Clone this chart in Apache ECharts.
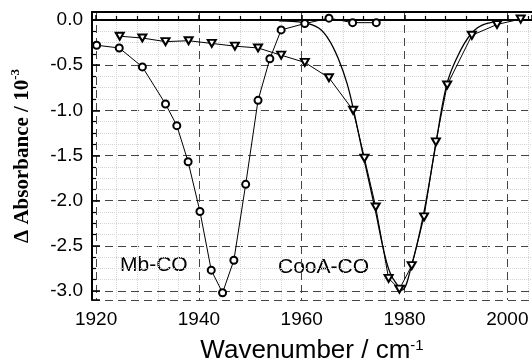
<!DOCTYPE html>
<html lang="en">
<head>
    <meta charset="UTF-8">
    <title></title>
    <script src="https://cdn.jsdelivr.net/npm/echarts@6/dist/echarts.min.js"></script>
    <style>
        html, body { margin: 0; padding: 0; background: #fff; }
    </style>
</head>
<body>
<div id="box1" style="width: 532px;height: 362px"></div>
<script>
    // Mb-CO difference spectrum (circles)
    var mbX = [1920.1, 1924.5, 1929.0, 1933.5, 1935.7, 1937.9, 1940.2, 1942.4, 1944.6, 1946.8,
        1949.1, 1951.5, 1953.8, 1956.0, 1960.6, 1965.3, 1969.9, 1974.5];
    var mbY = [-0.28, -0.31, -0.52, -0.93, -1.17, -1.57, -2.12, -2.77, -3.02, -2.66,
        -1.82, -0.89, -0.43, -0.11, -0.04, 0.02, -0.03, -0.03];

    // CooA-CO difference spectrum (triangles)
    var cooX = [1924.6, 1929.0, 1933.5, 1938.0, 1942.5, 1947.0, 1951.5, 1956.0, 1960.6, 1965.3,
        1970.0, 1972.2, 1974.4, 1976.9, 1979.0, 1981.4, 1983.8, 1986.1, 1988.3, 1993.1, 1998.0, 2002.6];
    var cooY = [-0.18, -0.20, -0.24, -0.23, -0.26, -0.29, -0.31, -0.39, -0.47, -0.64,
        -1.00, -1.53, -2.07, -2.86, -2.98, -2.72, -2.18, -1.35, -0.72, -0.17, -0.05, 0.01];

    // fitted band (solid smooth curve)
    var fitX = [1955.6, 1960.4, 1963.3, 1965.3, 1967.2, 1968.8, 1970.1, 1972.0, 1974.3, 1975.9,
        1977.2, 1978.8, 1979.5, 1981.4, 1983.6, 1985.9, 1988.1, 1990.1, 1993.0, 1995.9, 2002.6, 2004.8];
    var fitY = [-0.01, -0.03, -0.09, -0.22, -0.44, -0.70, -1.00, -1.51, -2.10, -2.54,
        -2.80, -2.95, -2.99, -2.71, -2.18, -1.44, -0.74, -0.43, -0.15, -0.04, 0.0, 0.0];

    var labels = ['Mb-CO', 'CooA-CO'];

    function pairs(xs, ys) {
        return xs.map(function (x, i) { return [x, ys[i]]; });
    }

    var sans = '"Liberation Sans", Arial, Helvetica, sans-serif';
    var serif = '"Liberation Serif", "Times New Roman", serif';
    var dash = [8, 5];

    var mychar = echarts.init(document.getElementById("box1"));
    var option = {
        backgroundColor: '#fff',
        animation: false,
        grid: {left: 92, right: 0, top: 12, bottom: 62, outerBoundsMode: 'none', containLabel: false},
        xAxis: [{
            type: 'value',
            min: 1919.2,
            max: 2004.8,
            splitNumber: 4,
            name: '{m|Wavenumber / cm}{s|-1}',
            nameLocation: 'middle',
            nameGap: 38,
            nameTextStyle: {
                rich: {
                    m: {fontSize: 26, fontFamily: sans, color: '#000', lineHeight: 26},
                    s: {fontSize: 15, fontFamily: sans, color: '#000', lineHeight: 12, verticalAlign: 'top'}
                }
            },
            axisLine: {lineStyle: {color: '#000', width: 2}},
            axisTick: {inside: true, length: 5, lineStyle: {color: '#000', width: 1.5}},
            minorTick: {show: true, splitNumber: 5, length: 4, lineStyle: {color: '#000', width: 1.2}},
            axisLabel: {
                color: '#000', fontSize: 19, fontFamily: sans, margin: 10,
                showMinLabel: false, showMaxLabel: false,
                formatter: function (v) { return String(v); }
            },
            splitLine: {lineStyle: {color: '#444', type: dash, width: 1}},
            minorSplitLine: {show: true, lineStyle: {color: '#d4d4d4', type: 'dotted', width: 1}}
        }, {
            type: 'value',
            position: 'top',
            min: 1919.2,
            max: 2004.8,
            axisLine: {show: true, lineStyle: {color: '#000', width: 2}},
            axisTick: {show: false},
            axisLabel: {show: false},
            splitLine: {show: false}
        }],
        yAxis: {
            type: 'value',
            min: -3.1,
            max: 0.088,
            splitNumber: 6,
            name: '{m|Δ Absorbance / 10}{s|-3}',
            nameLocation: 'middle',
            nameGap: 55,
            nameTextStyle: {
                rich: {
                    m: {fontSize: 21, fontFamily: serif, fontWeight: 'bold', color: '#000', lineHeight: 28},
                    s: {fontSize: 13, fontFamily: serif, fontWeight: 'bold', color: '#000', lineHeight: 13, verticalAlign: 'top'}
                }
            },
            axisLine: {show: true, lineStyle: {color: '#000', width: 2}},
            axisTick: {inside: true, length: 8, lineStyle: {color: '#000', width: 1.5}},
            minorTick: {show: true, splitNumber: 4, length: 4, lineStyle: {color: '#000', width: 1.2}},
            axisLabel: {
                color: '#000', fontSize: 19, fontFamily: sans, margin: 9,
                showMinLabel: false, showMaxLabel: false,
                formatter: function (v) { return v.toFixed(1); }
            },
            splitLine: {lineStyle: {color: '#444', type: dash, width: 1}},
            minorSplitLine: {show: true, lineStyle: {color: '#d4d4d4', type: 'dotted', width: 1}}
        },
        series: [{
            name: 'fit',
            type: 'line',
            data: pairs(fitX, fitY),
            smooth: 0.4,
            showSymbol: false,
            symbol: 'none',
            lineStyle: {color: '#000', width: 1.3},
            z: 2
        }, {
            name: labels[1],
            type: 'line',
            data: pairs(cooX, cooY),
            symbol: 'emptyTriangle',
            symbolRotate: 180,
            symbolSize: [8, 7],
            itemStyle: {color: '#000', borderWidth: 1},
            lineStyle: {color: '#000', width: 1},
            z: 3
        }, {
            name: labels[0],
            type: 'line',
            data: pairs(mbX, mbY),
            symbol: 'emptyCircle',
            symbolSize: 7,
            itemStyle: {color: '#000', borderWidth: 1},
            lineStyle: {color: '#000', width: 1},
            z: 4
        }],
        graphic: [{
            type: 'text', x: 120, y: 265,
            style: {text: labels[0], fill: '#000', font: '21px ' + sans, verticalAlign: 'middle'}
        }, {
            type: 'text', x: 278, y: 267,
            style: {text: labels[1], fill: '#000', font: '21px ' + sans, verticalAlign: 'middle'}
        }]
    };
    mychar.setOption(option);
</script>
</body>
</html>
